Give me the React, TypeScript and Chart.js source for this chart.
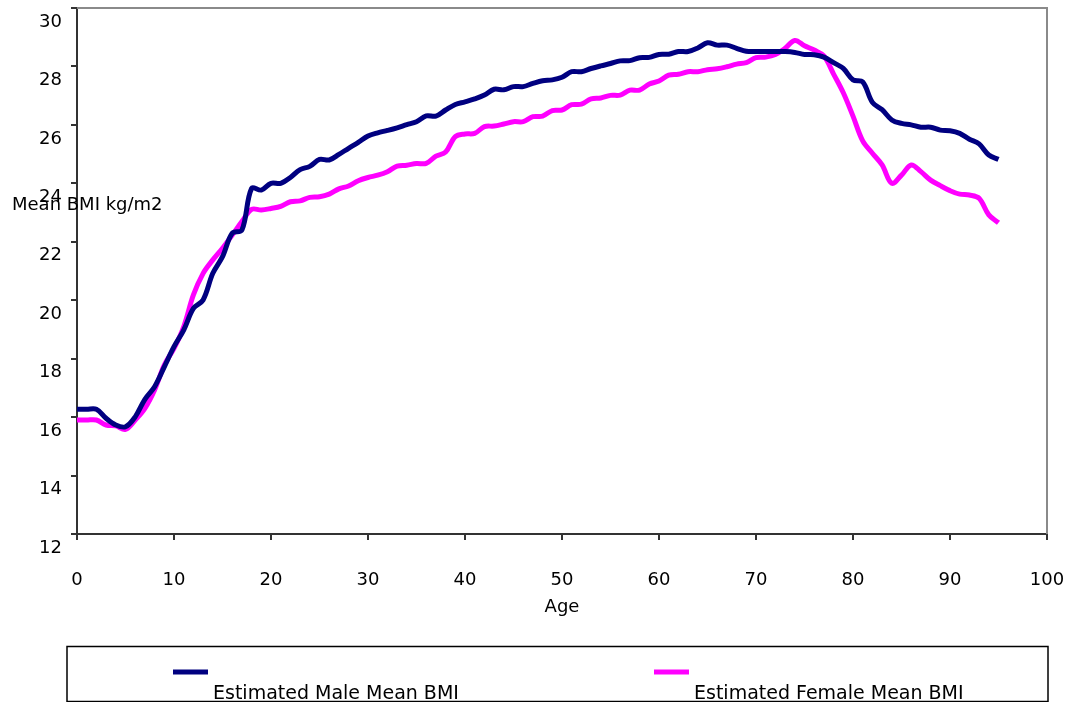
import React, { useEffect, useRef } from "react";
import { Chart, registerables } from "chart.js";

Chart.register(...registerables);

// Age in years, 0 to 95
const ages: number[] = Array.from({ length: 96 }, (_, i) => i);

const maleBmi: number[] = [
  16.27, 16.27, 16.27, 15.96, 15.73, 15.67, 16.01, 16.61, 17.04, 17.72,
  18.41, 18.98, 19.72, 20.01, 20.92, 21.49, 22.29, 22.4, 23.83, 23.77,
  24.0, 24.0, 24.2, 24.47, 24.58, 24.82, 24.8, 24.99, 25.2, 25.4,
  25.62, 25.73, 25.81, 25.9, 26.01, 26.11, 26.31, 26.3, 26.51, 26.7,
  26.79, 26.89, 27.02, 27.22, 27.2, 27.31, 27.31, 27.42, 27.51, 27.54,
  27.63, 27.82, 27.82, 27.93, 28.02, 28.1, 28.19, 28.2, 28.3, 28.31,
  28.41, 28.42, 28.51, 28.51, 28.63, 28.81, 28.73, 28.73, 28.62, 28.52,
  28.51, 28.51, 28.51, 28.51, 28.48, 28.41, 28.4, 28.32, 28.13, 27.93,
  27.54, 27.47, 26.77, 26.52, 26.17, 26.05, 26.0, 25.92, 25.92, 25.82,
  25.8, 25.71, 25.51, 25.35, 24.97, 24.82,
];

const femaleBmi: number[] = [
  15.9, 15.9, 15.9, 15.73, 15.7, 15.58, 15.9, 16.3, 16.93, 17.78,
  18.35, 19.09, 20.18, 20.92, 21.38, 21.78, 22.23, 22.69, 23.11, 23.09,
  23.14, 23.21, 23.37, 23.4, 23.52, 23.54, 23.63, 23.81, 23.91, 24.09,
  24.2, 24.28, 24.4, 24.59, 24.62, 24.68, 24.68, 24.93, 25.07, 25.6,
  25.69, 25.71, 25.94, 25.96, 26.03, 26.11, 26.11, 26.28, 26.3, 26.49,
  26.51, 26.69, 26.71, 26.89, 26.92, 27.01, 27.02, 27.19, 27.19, 27.4,
  27.5, 27.7, 27.73, 27.82, 27.82, 27.89, 27.92, 27.99, 28.08, 28.13,
  28.3, 28.32, 28.41, 28.62, 28.89, 28.71, 28.56, 28.36, 27.74, 27.1,
  26.3, 25.45, 25.03, 24.63, 24.0, 24.28, 24.63, 24.4, 24.11, 23.92,
  23.75, 23.63, 23.6, 23.49, 22.92, 22.65,
];

const seriesNames: string[] = ["Estimated Male Mean BMI", "Estimated Female Mean BMI"];
const seriesColors: string[] = ["#000080", "#FF00FF"];

const xAxisTitle = "Age";
const yAxisTitle = "Mean BMI kg/m2";

const FONT = "'DejaVu Sans', Verdana, sans-serif";

// Draws the gray frame, the axis titles and the boxed legend under the plot
const decorations = {
  id: "decorations",
  afterDraw(chart: Chart) {
    const { ctx, chartArea } = chart;
    ctx.save();

    // top and right frame of the plot area
    ctx.strokeStyle = "#8a8a8a";
    ctx.lineWidth = 2;
    ctx.beginPath();
    ctx.moveTo(chartArea.left, chartArea.top);
    ctx.lineTo(chartArea.right, chartArea.top);
    ctx.lineTo(chartArea.right, chartArea.bottom);
    ctx.stroke();

    ctx.fillStyle = "#000";
    ctx.font = `18px ${FONT}`;
    ctx.textBaseline = "middle";
    ctx.textAlign = "center";
    ctx.fillText(xAxisTitle, (chartArea.left + chartArea.right) / 2, 607);
    ctx.textAlign = "left";
    ctx.fillText(yAxisTitle, 12, 205);

    // legend box
    ctx.strokeStyle = "#000";
    ctx.lineWidth = 1.5;
    ctx.strokeRect(67, 646.5, 981, 55);

    const markers = [173, 654];
    ctx.font = `19px ${FONT}`;
    ctx.textBaseline = "alphabetic";
    seriesNames.forEach((name, i) => {
      ctx.fillStyle = seriesColors[i];
      ctx.fillRect(markers[i], 669.5, 35, 5);
      ctx.fillStyle = "#000";
      ctx.fillText(name, markers[i] + 40, 699);
    });

    ctx.restore();
  },
};

export default function App() {
  const canvasRef = useRef<HTMLCanvasElement | null>(null);

  useEffect(() => {
    document.body.style.margin = "0";
    const canvas = canvasRef.current;
    if (!canvas) return;

    const chart = new Chart(canvas, {
      type: "line",
      data: {
        labels: ages,
        datasets: [
          {
            label: seriesNames[0],
            data: ages.map((a, i) => ({ x: a, y: maleBmi[i] })),
            borderColor: seriesColors[0],
            backgroundColor: seriesColors[0],
            borderWidth: 5,
            pointRadius: 0,
            tension: 0.35,
            fill: false,
          },
          {
            label: seriesNames[1],
            data: ages.map((a, i) => ({ x: a, y: femaleBmi[i] })),
            borderColor: seriesColors[1],
            backgroundColor: seriesColors[1],
            borderWidth: 5,
            pointRadius: 0,
            tension: 0.35,
            fill: false,
          },
        ],
      },
      options: {
        responsive: false,
        animation: false,
        events: [],
        layout: { padding: { left: 0, right: 23, top: 8, bottom: 0 } },
        plugins: {
          legend: { display: false },
          tooltip: { enabled: false },
          title: { display: false },
        },
        scales: {
          x: {
            type: "linear",
            min: 0,
            max: 100,
            afterFit: (scale: any) => {
              scale.height = 168;
              scale.paddingLeft = 0;
              scale.paddingRight = 0;
            },
            ticks: {
              stepSize: 10,
              color: "#000",
              padding: 30,
              maxRotation: 0,
              font: { family: FONT, size: 18 },
            },
            grid: {
              drawOnChartArea: false,
              drawTicks: true,
              tickLength: 6,
              color: "#333",
              lineWidth: 2,
            },
            border: { display: true, color: "#333", width: 2 },
          },
          y: {
            type: "linear",
            min: 12,
            max: 30,
            afterFit: (scale: any) => {
              scale.width = 77;
              scale.paddingTop = 0;
              scale.paddingBottom = 0;
            },
            ticks: {
              stepSize: 2,
              color: "#000",
              padding: 9,
              labelOffset: 14,
              font: { family: FONT, size: 18 },
            },
            grid: {
              drawOnChartArea: false,
              drawTicks: true,
              tickLength: 6,
              color: "#333",
              lineWidth: 2,
            },
            border: { display: true, color: "#333", width: 2 },
          },
        },
      },
      plugins: [decorations],
    });

    return () => chart.destroy();
  }, []);

  return (
    <canvas
      ref={canvasRef}
      width={1070}
      height={702}
      style={{ display: "block", width: 1070, height: 702 }}
    />
  );
}
